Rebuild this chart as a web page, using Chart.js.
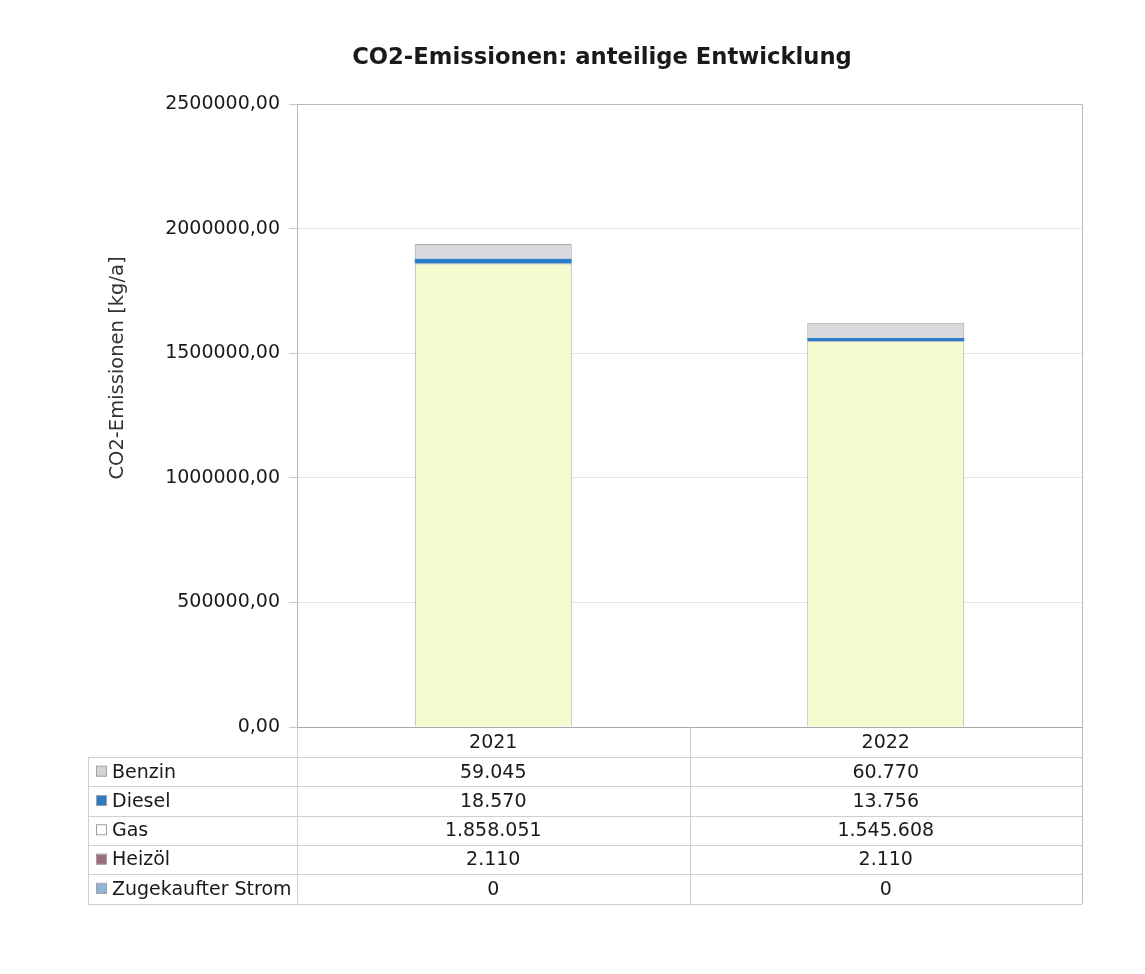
<!DOCTYPE html>
<html>
<head>
<meta charset="utf-8">
<script src="https://cdn.jsdelivr.net/npm/chart.js@4/dist/chart.umd.min.js"></script>
<style>
  body { margin: 0; background: #fff; }
  #wrap { width: 1145px; height: 974px; }
</style>
</head>
<body>
<div id="wrap"><canvas id="c" width="1145" height="974"></canvas></div>
<script>
// data, in table order (top row first)
var years = ["2021", "2022"];
var sources = ["Benzin", "Diesel", "Gas", "Heizöl", "Zugekaufter Strom"];
var benzin = [59045, 60770];
var diesel = [18570, 13756];
var gas = [1858051, 1545608];
var heizoel = [2110, 2110];
var strom = [0, 0];
var yTicks = [0, 500000, 1000000, 1500000, 2000000, 2500000];

var values = [benzin, diesel, gas, heizoel, strom];
var barColors = ["#d9d9de", "#2b7cc2", "#f6fbcf", "#9c6b7e", "#8fb4d8"];
var keyColors = ["#d4d4d8", "#2b7cc2", "#ffffff", "#9c6b7e", "#8fb4d8"];

var FONT = "'DejaVu Sans', Verdana, sans-serif";
var deNum = new Intl.NumberFormat("de-DE");
var deTick = new Intl.NumberFormat("de-DE", { minimumFractionDigits: 2, maximumFractionDigits: 2, useGrouping: false });

// stacking goes bottom-up, so build datasets reversed
var datasets = [];
for (var i = sources.length - 1; i >= 0; i--) {
    datasets.push({
        label: sources[i],
        data: values[i],
        backgroundColor: barColors[i],
        borderColor: i == 1 ? barColors[i] : "#a8a8a8",
        borderWidth: i == 1 ? 0 : 1,
        barPercentage: 0.4,
        categoryPercentage: 1.0
    });
}

var tablePlugin = {
    id: "tablePlugin",
    afterDraw: function(chart) {
        var ctx = chart.ctx;
        var a = chart.chartArea;
        var xs = chart.scales.x;
        var rowH = 29.3;
        var tableLeft = 88;
        var headerBottom = a.bottom + 30;
        var tableBottom = headerBottom + rowH * sources.length;
        var mid = (a.left + a.right) / 2;

        ctx.save();
        // title
        ctx.fillStyle = "#1a1a1a";
        ctx.font = "bold 22.7px " + FONT;
        ctx.textAlign = "center";
        ctx.textBaseline = "middle";
        ctx.fillText("CO2-Emissionen: anteilige Entwicklung", 602, 58);

        // y axis title
        ctx.save();
        ctx.translate(118, 368);
        ctx.rotate(-Math.PI / 2);
        ctx.font = "19.5px " + FONT;
        ctx.fillStyle = "#333";
        ctx.fillText("CO2-Emissionen [kg/a]", 0, 0);
        ctx.restore();

        // plot frame top / right
        ctx.strokeStyle = "#b8b8b8";
        ctx.lineWidth = 1;
        ctx.beginPath();
        ctx.moveTo(a.left, a.top + 0.5);
        ctx.lineTo(a.right + 0.5, a.top + 0.5);
        ctx.lineTo(a.right + 0.5, tableBottom);
        ctx.stroke();

        // table grid
        ctx.strokeStyle = "#cfcfcf";
        ctx.beginPath();
        for (var r = 0; r <= sources.length; r++) {
            var y = Math.round(headerBottom + r * rowH) + 0.5;
            ctx.moveTo(tableLeft, y);
            ctx.lineTo(a.right, y);
        }
        ctx.moveTo(tableLeft + 0.5, headerBottom);
        ctx.lineTo(tableLeft + 0.5, tableBottom);
        ctx.moveTo(a.left + 0.5, a.bottom);
        ctx.lineTo(a.left + 0.5, tableBottom);
        ctx.moveTo(Math.round(mid) + 0.5, a.bottom);
        ctx.lineTo(Math.round(mid) + 0.5, tableBottom);
        ctx.stroke();

        // rows
        ctx.font = "19px " + FONT;
        for (var r = 0; r < sources.length; r++) {
            var cy = headerBottom + r * rowH + rowH / 2;
            ctx.fillStyle = keyColors[r];
            ctx.fillRect(96, cy - 5, 10, 10);
            ctx.strokeStyle = "#a0a0a0";
            ctx.strokeRect(96.5, cy - 5.5, 10, 10);
            ctx.fillStyle = "#1a1a1a";
            ctx.textAlign = "left";
            ctx.fillText(sources[r], 112, cy + 1);
            ctx.textAlign = "center";
            for (var k = 0; k < years.length; k++) {
                ctx.fillText(deNum.format(values[r][k]), xs.getPixelForValue(k), cy + 1);
            }
        }
        ctx.restore();
    }
};

new Chart(document.getElementById("c"), {
    type: "bar",
    data: { labels: years, datasets: datasets },
    options: {
        responsive: false,
        animation: false,
        layout: { padding: { left: 0, right: 63, top: 104, bottom: 217 } },
        plugins: {
            legend: { display: false },
            title: { display: false },
            tooltip: { enabled: false }
        },
        scales: {
            x: {
                stacked: true,
                grid: { display: false },
                border: { display: true, color: "#a8a8a8" },
                ticks: { color: "#1a1a1a", font: { family: FONT, size: 19 }, padding: -3 },
                afterFit: function(s) { s.height = 30; }
            },
            y: {
                stacked: true,
                min: 0,
                max: 2500000,
                afterBuildTicks: function(s) {
                    s.ticks = yTicks.map(function(v) { return { value: v }; });
                },
                grid: { color: "#e6e6e6", tickLength: 8, tickColor: "#c8c8c8" },
                border: { display: true, color: "#b8b8b8" },
                ticks: {
                    color: "#1a1a1a",
                    font: { family: FONT, size: 19 },
                    padding: 9,
                    callback: function(v) { return deTick.format(v); }
                },
                afterFit: function(s) { s.width = 297; }
            }
        }
    },
    plugins: [tablePlugin]
});
</script>
</body>
</html>
